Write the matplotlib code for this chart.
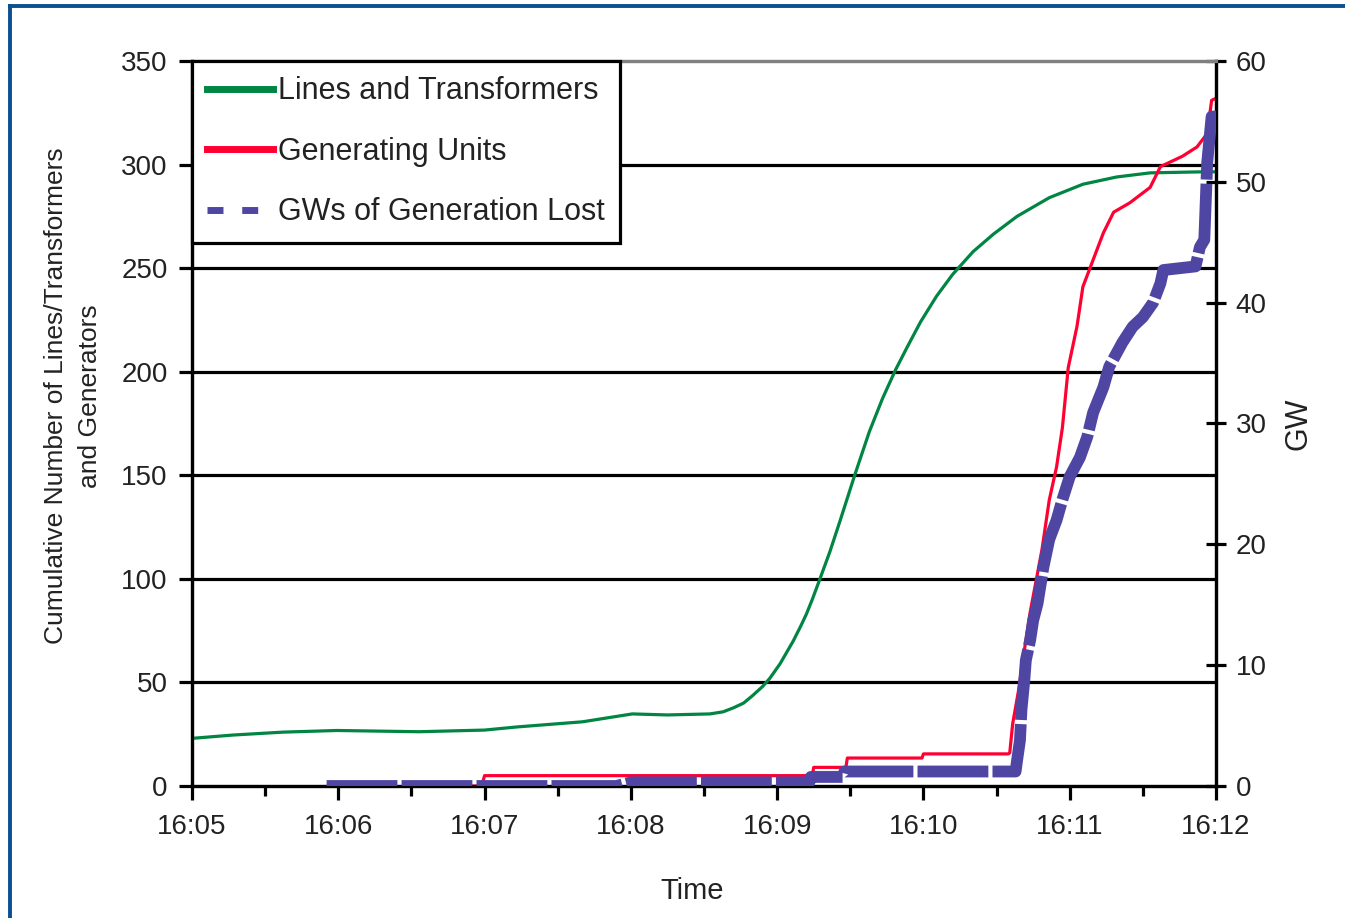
import matplotlib.pyplot as plt
from matplotlib.lines import Line2D
from matplotlib.ticker import MultipleLocator, FuncFormatter

plt.rcParams['font.family'] = ['Liberation Sans', 'DejaVu Sans']

# ------------------------------------------------------------ #
#   data (time = minutes after 16:05)
# ------------------------------------------------------------ #
tiempo_lineas = [0.0, 0.28, 0.62, 0.99, 1.55, 2.0, 2.22, 2.67, 3.01, 3.25,
                 3.54, 3.63, 3.70, 3.77, 3.83, 3.90, 3.95, 4.02, 4.11, 4.16,
                 4.20, 4.24, 4.29, 4.36, 4.43, 4.53, 4.63, 4.72, 4.81, 4.89,
                 4.98, 5.09, 5.20, 5.34, 5.48, 5.64, 5.86, 6.09, 6.32, 6.55,
                 6.91, 7.0]
lineas = [23, 24.6, 26, 26.8, 26.2, 27, 28.5, 31, 34.8, 34.3,
          34.8, 35.8, 37.7, 40, 43.5, 48, 52, 59, 70, 77,
          83, 90, 99.5, 113, 128, 150, 171, 187, 201, 212,
          224, 236.5, 247, 258, 266.5, 275, 284, 290.5, 294, 296,
          296.5, 296.5]

tiempo_unidades = [1.45, 1.98, 2.0, 4.24, 4.25, 4.47, 4.48, 4.99, 5.0, 5.58,
                   5.59, 5.61, 5.65, 5.68, 5.73, 5.81, 5.86, 5.91, 5.95, 5.99,
                   6.05, 6.09, 6.16, 6.23, 6.30, 6.41, 6.55, 6.62, 6.77, 6.87,
                   6.94, 6.97, 7.0]
unidades = [0, 0, 5, 5, 9, 9, 13.5, 13.5, 15.5, 15.5,
            16, 30, 46, 61, 84, 114, 138, 154, 173, 202,
            222, 241, 254, 267, 277, 281.5, 289, 299, 304, 308.5,
            315, 331, 332]

tiempo_gw = [0.92, 2.9, 3.0, 4.22, 4.23, 4.45, 4.46, 5.63, 5.64, 5.66,
             5.67, 5.69, 5.70, 5.73, 5.75, 5.78, 5.82, 5.86, 5.91, 5.95,
             6.00, 6.07, 6.12, 6.16, 6.23, 6.27, 6.36, 6.43, 6.50, 6.57,
             6.62, 6.64, 6.86, 6.89, 6.92, 6.94, 6.97, 7.0]
gw_perdidos = [0, 0, 0.3, 0.3, 0.75, 0.75, 1.2, 1.2, 2.1, 3.8,
               6.3, 8.8, 10.4, 12.1, 13.7, 15.1, 18.1, 20.4, 22, 23.7,
               25.6, 27.2, 28.9, 30.9, 33, 34.7, 36.7, 38, 38.8, 40,
               41.6, 42.7, 43, 44.6, 45.2, 51.6, 55.4, 55.4]

etiquetas_tiempo = ["16:05", "16:06", "16:07", "16:08", "16:09", "16:10", "16:11", "16:12"]

verde = "#008542"
rojo = "#ff0033"
azul = "#4f46a3"
texto = "#222222"

# ------------------------------------------------------------ #
#   figure
# ------------------------------------------------------------ #
fig = plt.figure(figsize=(13.45, 9.18), dpi=100)
ax = fig.add_axes([192 / 1345, 1 - 786 / 918, (1216 - 192) / 1345, (786 - 61) / 918])
ax2 = ax.twinx()

ax.plot(tiempo_lineas, lineas, color=verde, lw=2.3, solid_joinstyle="round", zorder=3)
ax.plot(tiempo_unidades, unidades, color=rojo, lw=2.3, zorder=3)
ax2.plot(tiempo_gw, gw_perdidos, color=azul, lw=8.5, dashes=(6, 0.35),
         solid_joinstyle="miter", zorder=3)

ax.set_xlim(0, 7)
ax.set_ylim(0, 350)
ax2.set_ylim(0, 60)

# grid
for v in range(50, 350, 50):
    ax.axhline(v, color="black", lw=2.3, zorder=1)

# spines
for a in (ax, ax2):
    a.spines["top"].set_color("#808080")
    for lado in ("top", "left", "right", "bottom"):
        a.spines[lado].set_linewidth(2.3)

# ticks
ax.xaxis.set_major_locator(MultipleLocator(1))
ax.xaxis.set_minor_locator(MultipleLocator(0.5))
ax.xaxis.set_major_formatter(FuncFormatter(
    lambda v, p: etiquetas_tiempo[int(round(v))] if 0 <= round(v) < len(etiquetas_tiempo) else ""))
ax.tick_params(axis="x", which="major", length=10, width=2.3, pad=10, labelsize=20, labelcolor=texto)
ax.tick_params(axis="x", which="minor", length=7, width=2.3)
ax.yaxis.set_major_locator(MultipleLocator(50))
ax.tick_params(axis="y", length=9.5, width=2.3, pad=8, labelsize=20, labelcolor=texto)
ax2.yaxis.set_major_locator(MultipleLocator(10))
ax2.tick_params(axis="y", direction="inout", length=14.5, width=2.3, pad=7, labelsize=20, labelcolor=texto)

# labels
ax.set_ylabel("Cumulative Number of Lines/Transformers\nand Generators", fontsize=19,
              color=texto, linespacing=1.5)
ax.yaxis.set_label_coords(-0.088, 0.538)
ax2.set_ylabel("GW", fontsize=22, color=texto, labelpad=12)
ax.set_xlabel("Time", fontsize=21, color=texto)
ax.xaxis.set_label_coords(0.488, -0.125)

# legend
manejadores = [
    Line2D([], [], color=verde, lw=5),
    Line2D([], [], color=rojo, lw=5),
    Line2D([], [], color=azul, lw=5, dashes=(2.3, 2.7)),
]
nombres = ["Lines and Transformers", "Generating Units", "GWs of Generation Lost"]
leg = ax2.legend(manejadores, nombres, loc="upper left", bbox_to_anchor=(0, 1),
                 borderaxespad=0, fontsize=22, frameon=True, fancybox=False,
                 framealpha=1, edgecolor="black", handlelength=2.15,
                 handletextpad=0.15, labelspacing=1.0, borderpad=0.5)
leg.get_frame().set_linewidth(2.3)
for t in leg.get_texts():
    t.set_color(texto)
leg.set_zorder(10)

# blue frame of the picture (left and top only)
fig.add_artist(Line2D([10 / 1345, 10 / 1345], [0, 1 - 6 / 918], color="#0b4f91", lw=2.8,
                      transform=fig.transFigure))
fig.add_artist(Line2D([10 / 1345, 1], [1 - 6 / 918, 1 - 6 / 918], color="#0b4f91", lw=2.8,
                      transform=fig.transFigure))

fig.savefig("out.png", dpi=100, facecolor="white")
